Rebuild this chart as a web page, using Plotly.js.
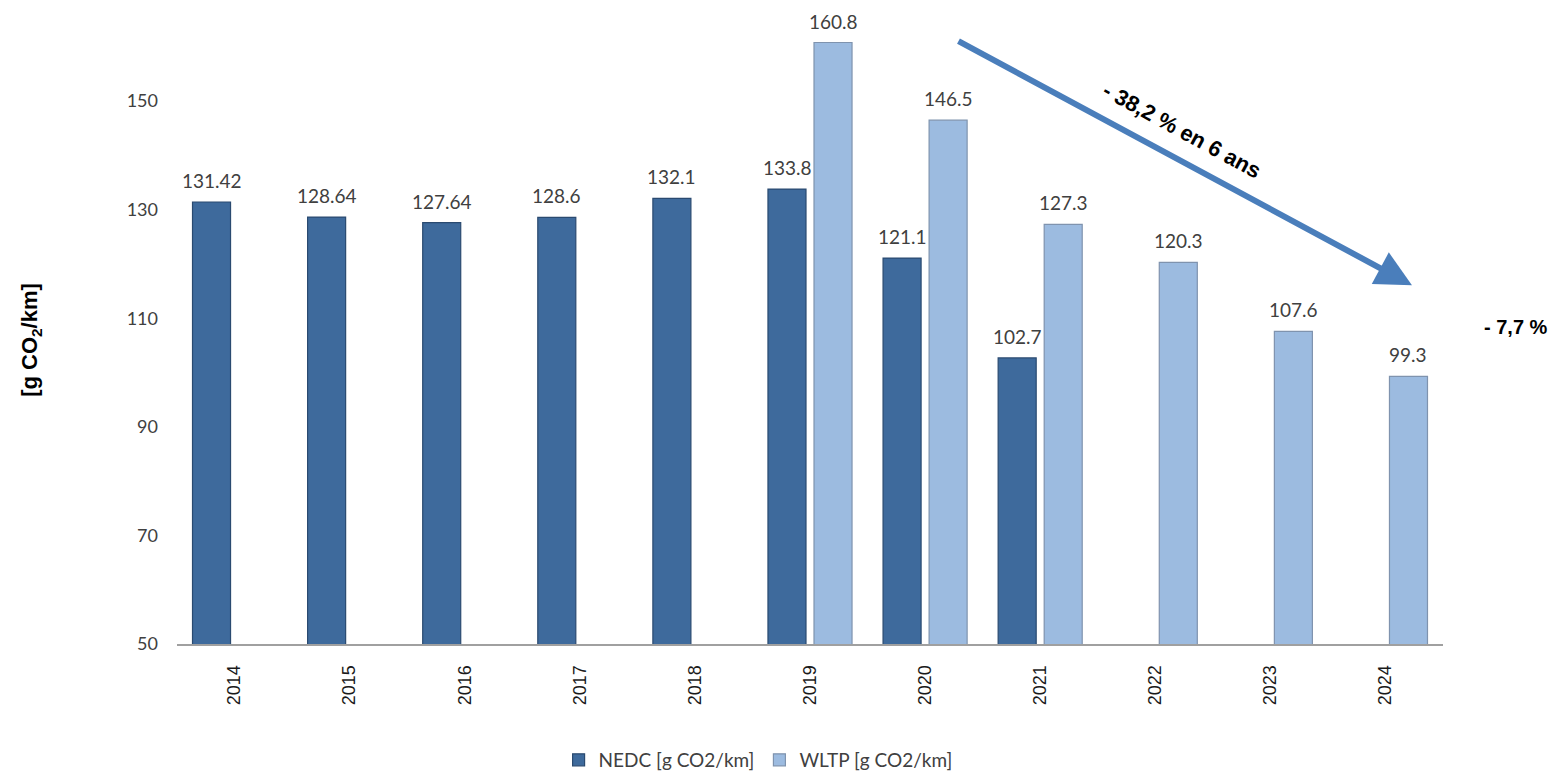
<!DOCTYPE html>
<html>
<head>
<meta charset="utf-8">
<script src="https://cdn.plot.ly/plotly-3.0.1.min.js"></script>
<style>html,body{margin:0;padding:0;background:#fff;}#chart{width:1559px;height:779px;}</style>
</head>
<body>
<div id="chart"></div>
<script>
const years = ["2014","2015","2016","2017","2018","2019","2020","2021","2022","2023","2024"];
const nedc  = [131.42,128.64,127.64,128.6,132.1,133.8,121.1,102.7,null,null,null];
const wltp  = [null,null,null,null,null,160.8,146.5,127.3,120.3,107.6,99.3];
const yTicks = [50,70,90,110,130,150];
const seriesNames = ["NEDC [g CO2/km]","WLTP [g CO2/km]"];

const labelFont = {family:"Lato, 'Open Sans', sans-serif", size:19, color:"#404040"};

const traces = [
  {type:"bar", name:seriesNames[0], x:years, y:nedc,
   marker:{color:"#3E6A9C", line:{color:"#2A4A70", width:1.2}}, hoverinfo:"y"},
  {type:"bar", name:seriesNames[1], x:years, y:wltp,
   marker:{color:"#9CBBE0", line:{color:"#7F93AE", width:1.2}}, hoverinfo:"y"}
];

const annotations = [];
years.forEach((yr,i)=>{
  if (nedc[i]!==null) annotations.push({x:i, y:nedc[i], xref:"x", yref:"y", text:String(nedc[i]),
    showarrow:false, xshift:-23, yshift:8, xanchor:"center", yanchor:"bottom", font:labelFont});
  if (wltp[i]!==null) annotations.push({x:i, y:wltp[i], xref:"x", yref:"y", text:String(wltp[i]),
    showarrow:false, xshift:23, yshift:8, xanchor:"center", yanchor:"bottom", font:labelFont});
});
// trend arrow
annotations.push({xref:"paper", yref:"paper", x:0.9755, y:0.59, ax:-455, ay:-245,
  axref:"pixel", ayref:"pixel", text:"", showarrow:true, arrowhead:2, arrowsize:1.2,
  arrowwidth:6, arrowcolor:"#4A7EBB"});
annotations.push({xref:"paper", yref:"paper", x:0.794, y:0.845, xanchor:"center", yanchor:"middle",
  text:"<b>- 38,2 % en 6 ans</b>", showarrow:false, textangle:28.5,
  font:{family:"'Liberation Sans', Arial, sans-serif", size:22, color:"#000"}});
annotations.push({xref:"paper", yref:"paper", x:1.058, y:0.522, xanchor:"center", yanchor:"middle",
  text:"<b>- 7,7 %</b>", showarrow:false,
  font:{family:"'Liberation Sans', Arial, sans-serif", size:20, color:"#000"}});

const layout = {
  width:1559, height:779,
  margin:{l:177, r:116, t:36, b:135},
  paper_bgcolor:"#fff", plot_bgcolor:"#fff",
  barmode:"group", bargap:0.2, bargroupgap:0.174,
  showlegend:true,
  legend:{orientation:"h", xref:"paper", yref:"container", x:0.459, y:0, xanchor:"center", yanchor:"bottom",
    font:{family:"Lato, 'Open Sans', sans-serif", size:19, color:"#404040"}, itemwidth:30, tracegroupgap:0},
  xaxis:{type:"category", range:[-0.5,10.5], tickangle:-90, showline:true, linecolor:"#A0A0A0", linewidth:2,
    ticks:"", showgrid:false, zeroline:false, ticklabelstandoff:12, automargin:false,
    tickfont:{family:"'Liberation Sans', Arial, sans-serif", size:18, color:"#1a1a1a"}},
  yaxis:{range:[50,162], tickvals:yTicks, ticktext:yTicks.map(String), showline:false, showgrid:false,
    zeroline:false, ticks:"", ticklabelstandoff:18, automargin:false,
    tickfont:{family:"Lato, 'Open Sans', sans-serif", size:18, color:"#404040"},
    title:{text:"<b>[g CO<sub>2</sub>/km]</b>", standoff:82,
      font:{family:"'Liberation Sans', Arial, sans-serif", size:22, color:"#000"}}},
  annotations:annotations
};

Plotly.newPlot("chart", traces, layout, {displayModeBar:false, staticPlot:true});
</script>
</body>
</html>
